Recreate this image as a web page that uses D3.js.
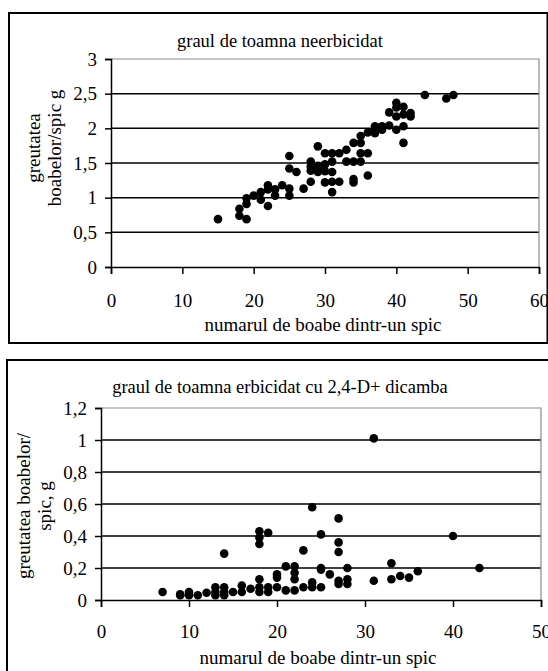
<!DOCTYPE html>
<html>
<head>
<meta charset="utf-8">
<script src="https://cdn.jsdelivr.net/npm/d3@7"></script>
<style>
  body { margin: 0; background: #fff; }
  svg text { font-family: 'Liberation Serif', 'Times New Roman', serif; }
</style>
</head>
<body>
<div id="chart"></div>
<script>
// graul de toamna neerbicidat: [boabe, greutate]
const neerbicidat = [
  [15, 0.69],
  [18, 0.84], [18, 0.74],
  [19, 0.99], [19, 0.91], [19, 0.69],
  [20, 1.03],
  [21, 1.08], [21, 0.97],
  [22, 1.18], [22, 0.88], [22, 1.12],
  [23, 1.03], [23, 1.12],
  [24, 1.18],
  [25, 1.6], [25, 1.42], [25, 1.13], [25, 1.03],
  [26, 1.37],
  [27, 1.13],
  [28, 1.52], [28, 1.45], [28, 1.39], [28, 1.23],
  [29, 1.74], [29, 1.46], [29, 1.37], [29, 1.42],
  [30, 1.64], [30, 1.48], [30, 1.38], [30, 1.22],
  [31, 1.64], [31, 1.52], [31, 1.37], [31, 1.23], [31, 1.08],
  [32, 1.64], [32, 1.23],
  [33, 1.69], [33, 1.52],
  [34, 1.79], [34, 1.52], [34, 1.27], [34, 1.22],
  [35, 1.89], [35, 1.79], [35, 1.64], [35, 1.52],
  [36, 1.94], [36, 1.64], [36, 1.32],
  [37, 2.03], [37, 1.98], [37, 1.93],
  [38, 2.03], [38, 1.98],
  [39, 2.23], [39, 2.04],
  [40, 2.37], [40, 2.3], [40, 2.17], [40, 1.98],
  [41, 2.31], [41, 2.2], [41, 2.03], [41, 1.79],
  [42, 2.22], [42, 2.17],
  [44, 2.48],
  [47, 2.43],
  [48, 2.48]
]

// graul de toamna erbicidat cu 2,4-D+ dicamba
const erbicidat = [
  [7, 0.05],
  [9, 0.035], [9, 0.03],
  [10, 0.05], [10, 0.03],
  [11, 0.03],
  [12, 0.045],
  [13, 0.08], [13, 0.05], [13, 0.03],
  [14, 0.29], [14, 0.08], [14, 0.05], [14, 0.03],
  [15, 0.05],
  [16, 0.09], [16, 0.05],
  [17, 0.07],
  [18, 0.43], [18, 0.39], [18, 0.35], [18, 0.13], [18, 0.08], [18, 0.05],
  [19, 0.42], [19, 0.08], [19, 0.05],
  [20, 0.16], [20, 0.14], [20, 0.08],
  [21, 0.21], [21, 0.06],
  [22, 0.21], [22, 0.17], [22, 0.13], [22, 0.06],
  [23, 0.31], [23, 0.08],
  [24, 0.58], [24, 0.11], [24, 0.08],
  [25, 0.41], [25, 0.2], [25, 0.19], [25, 0.08],
  [26, 0.16],
  [27, 0.51], [27, 0.36], [27, 0.3], [27, 0.12], [27, 0.1],
  [28, 0.2], [28, 0.13], [28, 0.1],
  [31, 1.01], [31, 0.12],
  [33, 0.23], [33, 0.13],
  [34, 0.15],
  [35, 0.14],
  [36, 0.18],
  [40, 0.4],
  [43, 0.2]
]

const xTicksTop = [0, 10, 20, 30, 40, 50, 60]
const yTicksTop = [0, 0.5, 1, 1.5, 2, 2.5, 3]
const xTicksBottom = [0, 10, 20, 30, 40, 50]
const yTicksBottom = [0, 0.2, 0.4, 0.6, 0.8, 1, 1.2]

const FONT = "'Liberation Serif', 'Times New Roman', serif"

const svg = d3.select('#chart')
  .append('svg')
  .attr('width', 548)
  .attr('height', 671)

const fmt = d => String(d).replace('.', ',')

function drawChart(cfg) {
  const g = svg.append('g')

  g.append('rect')
    .attr('x', cfg.frame[0])
    .attr('y', cfg.frame[1])
    .attr('width', cfg.frame[2])
    .attr('height', cfg.frame[3])
    .attr('fill', '#fff')
    .attr('stroke', '#000')
    .attr('stroke-width', 2)

  const x = d3.scaleLinear().domain(d3.extent(cfg.xTicks)).range([cfg.left, cfg.right])
  const y = d3.scaleLinear().domain(d3.extent(cfg.yTicks)).range([cfg.bottom, cfg.top])

  // grid lines
  g.selectAll('.grid')
    .data(cfg.yTicks.slice(1, -1))
    .join('line')
    .attr('x1', cfg.left)
    .attr('x2', cfg.right)
    .attr('y1', d => y(d))
    .attr('y2', d => y(d))
    .attr('stroke', '#000')
    .attr('stroke-width', 1.5)

  // top and right border of the plot area
  g.append('path')
    .attr('d', `M${cfg.left},${cfg.top}H${cfg.right}V${cfg.bottom}`)
    .attr('fill', 'none')
    .attr('stroke', '#8c8c8c')
    .attr('stroke-width', 1.2)

  const xAxis = d3.axisBottom(x).tickValues(cfg.xTicks).tickSize(7).tickFormat(fmt)
  const yAxis = d3.axisLeft(y).tickValues(cfg.yTicks).tickSize(6).tickFormat(fmt)

  const gx = g.append('g')
    .attr('transform', `translate(0,${cfg.bottom})`)
    .call(xAxis)
    .attr('font-family', FONT)
    .attr('font-size', 19)
  gx.select('.domain').attr('stroke-width', 1.5)
  gx.selectAll('line').attr('stroke-width', 1.5)
  gx.selectAll('text')
    .attr('fill', '#000')
    .attr('dy', null)
    .attr('y', cfg.xLabelY - cfg.bottom)

  const gy = g.append('g')
    .attr('transform', `translate(${cfg.left},0)`)
    .call(yAxis)
    .attr('font-family', FONT)
    .attr('font-size', 19)
  gy.select('.domain').attr('stroke-width', 1.5)
  gy.selectAll('line').attr('stroke-width', 1.5)
  gy.selectAll('text')
    .attr('fill', '#000')
    .attr('x', -14)

  g.selectAll('.dot')
    .data(cfg.data)
    .join('circle')
    .attr('cx', d => x(d[0]))
    .attr('cy', d => y(d[1]))
    .attr('r', 4.3)
    .attr('fill', '#000')

  g.append('text')
    .attr('x', cfg.titlePos[0])
    .attr('y', cfg.titlePos[1])
    .attr('text-anchor', 'middle')
    .attr('font-family', FONT)
    .attr('font-size', 18.5)
    .text(cfg.title)

  g.append('text')
    .attr('x', cfg.xTitlePos[0])
    .attr('y', cfg.xTitlePos[1])
    .attr('text-anchor', 'middle')
    .attr('font-family', FONT)
    .attr('font-size', 19)
    .text(cfg.xTitle)

  cfg.yTitle.forEach((line, i) => {
    g.append('text')
      .attr('transform', `translate(${cfg.yTitleX[i]},${cfg.yTitleY}) rotate(-90)`)
      .attr('text-anchor', 'middle')
      .attr('font-family', FONT)
      .attr('font-size', 19)
      .text(line)
  })
}

drawChart({
  data: neerbicidat,
  frame: [9, 13, 538.5, 330],
  left: 111, right: 539, top: 59, bottom: 267,
  xTicks: xTicksTop,
  yTicks: yTicksTop,
  xLabelY: 307,
  title: 'graul de toamna neerbicidat',
  titlePos: [280, 47],
  xTitle: 'numarul de boabe dintr-un spic',
  xTitlePos: [323, 331],
  yTitle: ['greutatea', 'boabelor/spic g'],
  yTitleX: [40, 61],
  yTitleY: 148
})

drawChart({
  data: erbicidat,
  frame: [7, 360, 545, 330],
  left: 101, right: 541, top: 408, bottom: 600,
  xTicks: xTicksBottom,
  yTicks: yTicksBottom,
  xLabelY: 638,
  title: 'graul de toamna erbicidat cu 2,4-D+ dicamba',
  titlePos: [280, 393],
  xTitle: 'numarul de boabe dintr-un spic',
  xTitlePos: [318, 664],
  yTitle: ['greutatea boabelor/', 'spic, g'],
  yTitleX: [30, 51],
  yTitleY: 506
})
</script>
</body>
</html>
